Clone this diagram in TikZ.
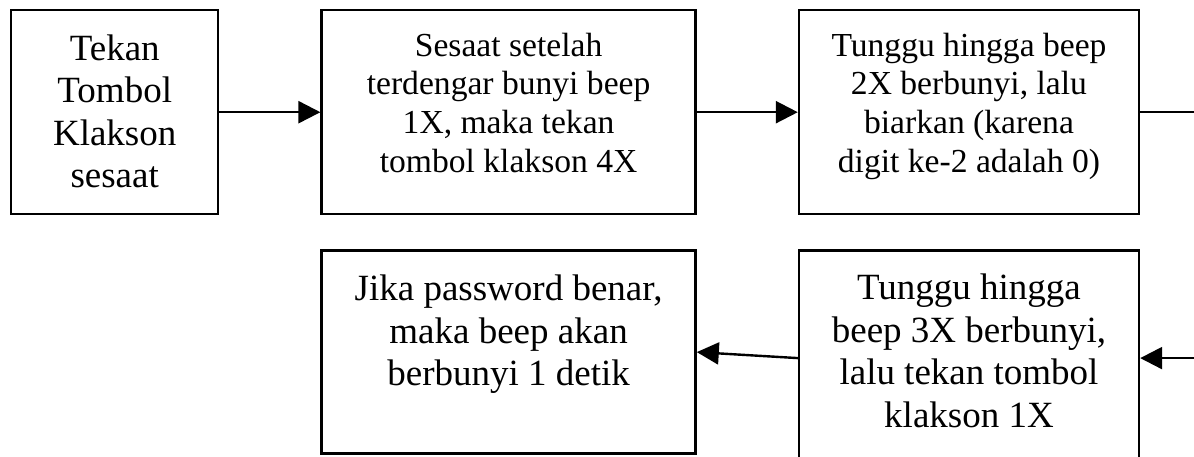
\documentclass[tikz,border=0pt]{standalone}
\usepackage{fontspec}
\setmainfont{Liberation Serif}
\usepackage{tikz}
\usetikzlibrary{arrows.meta}
\usetikzlibrary{positioning}

\newcommand{\bigtxt}{\fontsize{37pt}{42.5pt}\selectfont}
\newcommand{\smalltxt}{\fontsize{33.6pt}{38.8pt}\selectfont}
% width, height, first baseline, text
\newcommand{\boxtext}[4]{\parbox[c][#2][t]{#1}{\centering\rule{0pt}{#3}#4}}

\begin{document}
\begin{tikzpicture}[auto,line width=2.4pt]
	\tikzstyle{stepbox}=[draw, rectangle, inner sep=0pt]
	\tikzstyle{flow}=[-{Triangle[length=22pt,width=22pt]}]
	\useasboundingbox (0,0) rectangle (1194pt,-457pt);
	\clip (0,0) rectangle (1194pt,-457pt);
		\node[stepbox] (1) at (10pt,-9pt) [anchor=north west]
			{\boxtext{207pt}{204pt}{50pt}{\bigtxt Tekan\\Tombol\\Klakson\\sesaat}};
		\node[stepbox] (2) [right=101pt of 1]
			{\boxtext{374pt}{204pt}{46pt}{\smalltxt Sesaat setelah\\terdengar bunyi beep\\1X, maka tekan\\tombol klakson 4X}};
		\node[stepbox] (3) [right=101pt of 2]
			{\boxtext{340pt}{204pt}{46pt}{\smalltxt Tunggu hingga beep\\2X berbunyi, lalu\\biarkan (karena\\digit ke-2 adalah 0)}};
		\node[stepbox] (4) [below=34pt of 3]
			{\boxtext{340pt}{215pt}{49pt}{\bigtxt Tunggu hingga\\beep 3X berbunyi,\\lalu tekan tombol\\klakson 1X}};
		\node[stepbox] (5) [below=34pt of 2]
			{\boxtext{374pt}{203pt}{50pt}{\bigtxt Jika password benar,\\maka beep akan\\berbunyi 1 detik}};
		\draw[flow] (1) -- (2);
		\draw[flow] (2) -- (3);
		\draw[flow] (3.east) -- ++(80pt,0) |- (4.east);
		\draw[flow] (4.west) -- (5.east);
\end{tikzpicture}
\end{document}
